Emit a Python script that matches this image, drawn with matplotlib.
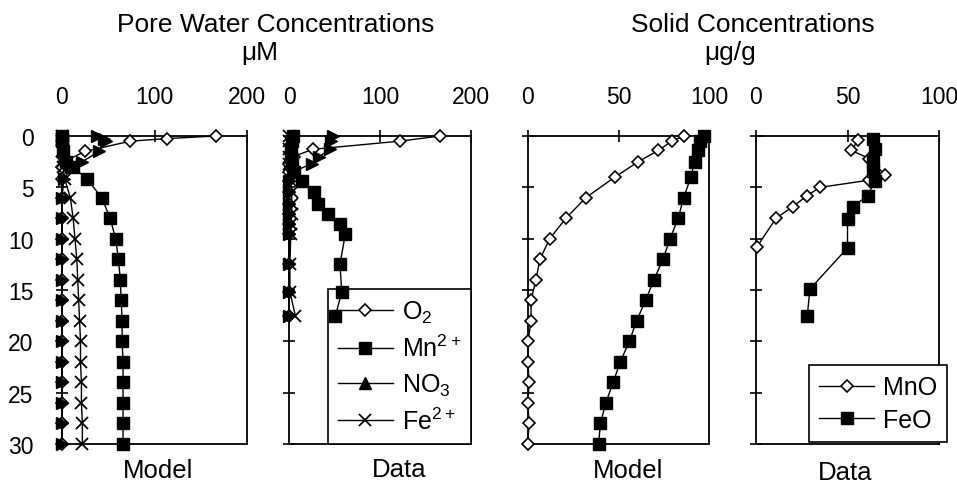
import matplotlib
matplotlib.use("Agg")
import matplotlib.pyplot as plt
from matplotlib.lines import Line2D

plt.rcParams['font.family'] = ['Liberation Sans', 'DejaVu Sans']

# pore water, model (uM)
depth_pw_model = [0, 0.25, 0.5, 1.5, 2.5, 3, 4.2, 6, 8, 10, 12, 14, 16, 18, 20, 22, 24, 26, 28, 30]
o2_model = [166, 114, 74, 25, 2, 0, 0, 0, 0, 0, 0, 0, 0, 0, 0, 0, 0, 0, 0, 0]
mn_model = [0, 0, 0, 1, 4, 12, 27, 43, 52, 58, 61, 63, 64, 65, 65, 66, 66, 66, 66, 66]
no3_model = [38, 45, 48, 40, 22, 10, 2, 0, 0, 0, 0, 0, 0, 0, 0, 0, 0, 0, 0, 0]
fe_model = [0, 0, 0, 0, 0, 1, 3, 9, 12, 14, 16, 17, 18, 19, 20, 20, 21, 21, 22, 22]

# pore water, data (uM)
depth_pw_data = [0, 0.5, 1.3, 2, 2.7, 3.5, 4.4, 5.5, 6.6, 7.6, 8.6, 9.5, 12.5, 15.2, 17.5]
o2_data = [166, 122, 26, 5, 0, 0, 0, 0, 0, 0, 0, 0, 0, 0, 0]
mn_data = [4, 3, 2, 2, 3, 5, 14, 27, 32, 43, 56, 62, 56, 58, 51]
no3_data = [48, 46, 45, 33, 25, 4, 0, 0, 0, 0, 0, 0, 0, 0, 0]
fe_data = [0, 0, 0, 0, 0, 1, 2, 3, 3, 3, 2, 2, 1, 1, 7]

# solids, model (ug/g)
depth_s_model = [0, 0.5, 1.4, 2.5, 4, 6, 8, 10, 12, 14, 16, 18, 20, 22, 24, 26, 28, 30]
mno_model = [86, 79.5, 72, 61, 48, 32, 21, 12, 6.6, 4.4, 1.7, 1.7, 0, 0, 0.5, 0, 0.5, 0]
feo_model = [97, 95, 94, 92, 90, 86, 83, 78.5, 74.6, 69.6, 65, 60, 56, 51, 47, 43, 40, 39]

# solids, data (ug/g)
depth_mno_data = [0.4, 1.4, 2.2, 3.8, 4.3, 5.0, 5.8, 6.9, 8.0, 10.8]
mno_data = [56, 52, 62, 70.5, 62, 35, 28, 20, 11, 0.5]
depth_feo_data = [0.3, 1.3, 2.4, 3.4, 4.4, 5.8, 6.9, 8.1, 10.9, 14.9, 17.5]
feo_data = [64, 65, 64, 64, 65, 61, 53, 50, 50, 29.5, 28]

W, H = 957, 485
fig = plt.figure(figsize=(W / 100, H / 100), dpi=100)

def make_ax(left, right, xmax, xticks, ylabels=False):
    ax = fig.add_axes([left / W, 1 - 445 / H, (right - left) / W, 308 / H])
    ax.set_xlim(0, xmax)
    ax.set_ylim(30, 0)
    ax.xaxis.tick_top()
    ax.set_xticks(xticks)
    ax.set_yticks(range(0, 31, 5))
    ax.tick_params(direction='inout', length=9, width=1.2, pad=16,
                   labelsize=16.5, color='black')
    ax.tick_params(axis='x', bottom=False, top=True)
    ax.tick_params(axis='y', right=False, labelleft=ylabels)
    for s in ax.spines.values():
        s.set_linewidth(1.3)
    return ax

styles = {
    'o2': dict(marker='D', mfc='white', mec='black', ms=6.5, mew=1.2),
    'mn': dict(marker='s', mfc='black', mec='black', ms=8),
    'no3': dict(marker='>', mfc='black', mec='black', ms=8.5),
    'fe': dict(marker='x', mfc='black', mec='black', ms=9, mew=1.3),
}

def draw(ax, x, y, key, z):
    ax.plot(x, y, color='black', lw=1.0, clip_on=False, zorder=z, **styles[key])

ax1 = make_ax(62, 247, 200, [0, 100, 200], ylabels=True)
draw(ax1, o2_model, depth_pw_model, 'o2', 3)
draw(ax1, mn_model, depth_pw_model, 'mn', 4)
draw(ax1, no3_model, depth_pw_model, 'no3', 5)
draw(ax1, fe_model, depth_pw_model, 'fe', 6)

ax2 = make_ax(289, 471, 200, [0, 100, 200])
draw(ax2, o2_data, depth_pw_data, 'o2', 3)
draw(ax2, mn_data, depth_pw_data, 'mn', 4)
draw(ax2, no3_data, depth_pw_data, 'no3', 5)
draw(ax2, fe_data, depth_pw_data, 'fe', 6)

ax3 = make_ax(528, 709, 100, [0, 50, 100])
draw(ax3, mno_model, depth_s_model, 'o2', 3)
draw(ax3, feo_model, depth_s_model, 'mn', 4)

ax4 = make_ax(756, 939, 100, [0, 50, 100])
draw(ax4, mno_data, depth_mno_data, 'o2', 3)
draw(ax4, feo_data, depth_feo_data, 'mn', 4)

def proxy(key):
    st = dict(styles[key])
    if key == 'no3':
        st['marker'] = '^'
    return Line2D([], [], color='black', lw=1.0, **st)

leg_kw = dict(loc='lower right', borderaxespad=0, frameon=True, fancybox=False,
              edgecolor='black', framealpha=1, fontsize=18, handlelength=2.2,
              handletextpad=0.35, numpoints=1, borderpad=0.4)

leg2 = ax2.legend([proxy('o2'), proxy('mn'), proxy('no3'), proxy('fe')],
                  ['O$_\\mathregular{2}$', 'Mn$^\\mathregular{2+}$',
                   'NO$_\\mathregular{3}$', 'Fe$^\\mathregular{2+}$'],
                  bbox_to_anchor=(1, 0), labelspacing=0.4, **leg_kw)
leg2.get_frame().set_linewidth(1.2)
leg2.set_zorder(2.5)  # data markers sit on top of the legend box

leg4 = ax4.legend([proxy('o2'), proxy('mn')], ['MnO', 'FeO'],
                  bbox_to_anchor=(1.044, 0.006), labelspacing=0.35, **leg_kw)
leg4.get_frame().set_linewidth(1.2)
leg4.set_zorder(2.5)

def ftext(x, y, s, size):
    fig.text(x / W, 1 - y / H, s, ha='center', va='baseline', fontsize=size)

ftext(276, 32, 'Pore Water Concentrations', 19)
ftext(260, 60, 'μM', 19)
ftext(753, 32, 'Solid Concentrations', 19)
ftext(730, 60, 'μg/g', 19)

ftext(158, 478, 'Model', 18.5)
ftext(399, 477, 'Data', 18.5)
ftext(628, 478, 'Model', 18.5)
ftext(845, 480, 'Data', 18.5)

fig.savefig('out.png', dpi=100)
